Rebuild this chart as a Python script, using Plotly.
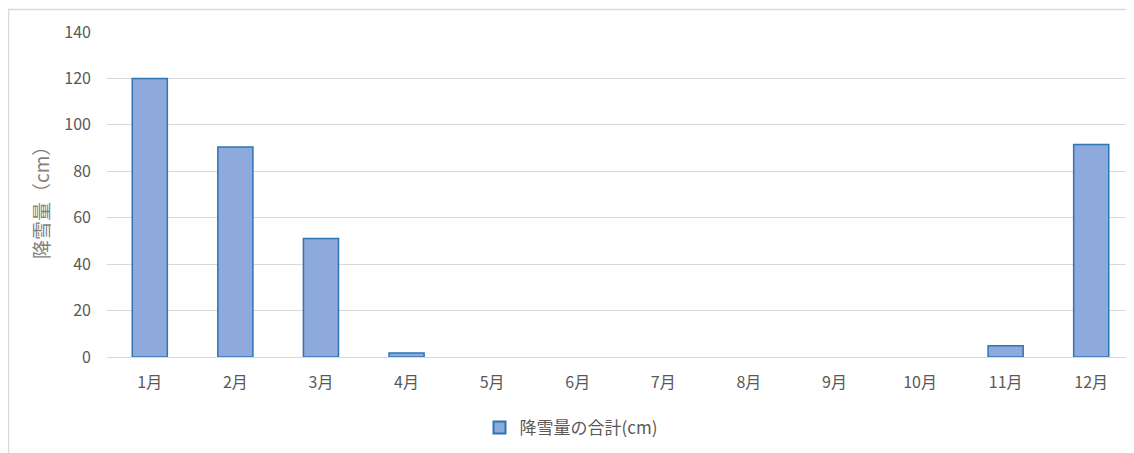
import plotly.graph_objects as go

months = ["1月", "2月", "3月", "4月", "5月", "6月", "7月", "8月", "9月", "10月", "11月", "12月"]
snowfall = [120, 90.5, 51, 1.7, 0, 0, 0, 0, 0, 0, 4.8, 91.5]
y_ticks = [0, 20, 40, 60, 80, 100, 120, 140]
series_name = "降雪量の合計(cm)"
y_title = "降雪量（cm）"

OFF = 8  # default body margin of the html page
W, H = 1134 - OFF, 453 - OFF
L, R, T, B = 107 - OFF, 0, 32 - OFF, 453 - 357
pw, ph = W - L - R, H - T - B

def px_x(p):
    return (p - OFF - L) / pw

def px_y(p):
    return (H - B - (p - OFF)) / ph

font_family = "Noto Sans CJK JP, Noto Sans, sans-serif"
gray = "#595959"

fig = go.Figure()
fig.add_trace(go.Bar(
    x=months, y=snowfall, name=series_name,
    marker=dict(color="#8EA9DB",
                line=dict(color="#2E75B6", width=[1.5 if v > 0 else 0 for v in snowfall])),
    showlegend=True,
))

fig.update_layout(
    width=W, height=H,
    margin=dict(l=L, r=R, t=T, b=B, autoexpand=False),
    paper_bgcolor="white", plot_bgcolor="white",
    bargap=0.59,
    font=dict(family=font_family, size=15, color=gray),
    showlegend=True,
    legend=dict(orientation="h", x=px_x(571), y=px_y(428), xanchor="center", yanchor="middle",
                font=dict(size=17, color=gray), itemsizing="constant"),
    xaxis=dict(showgrid=False, showline=False, zeroline=False, ticks="",
               tickfont=dict(size=16, color=gray), ticklabelstandoff=14),
    yaxis=dict(range=[0, 140], tickvals=y_ticks, showgrid=True, gridcolor="#D9D9D9", gridwidth=1.2,
               zeroline=True, zerolinecolor="#D9D9D9", zerolinewidth=1.2, showline=False, ticks="",
               tickfont=dict(size=16, color=gray), ticklabelstandoff=15),
    annotations=[dict(text=y_title, textangle=-90, x=px_x(40), y=px_y(198), xref="paper", yref="paper",
                      showarrow=False, font=dict(size=19, color="#7F7F7F"), xanchor="center", yanchor="middle")],
    shapes=[
        dict(type="line", xref="paper", yref="paper", x0=px_x(8), x1=px_x(1134), y0=px_y(9.5), y1=px_y(9.5),
             line=dict(color="#D9D9D9", width=1.5)),
        dict(type="line", xref="paper", yref="paper", x0=px_x(8.5), x1=px_x(8.5), y0=px_y(9.5), y1=px_y(453),
             line=dict(color="#D9D9D9", width=1.5)),
    ],
)

fig.write_html("out.html")
